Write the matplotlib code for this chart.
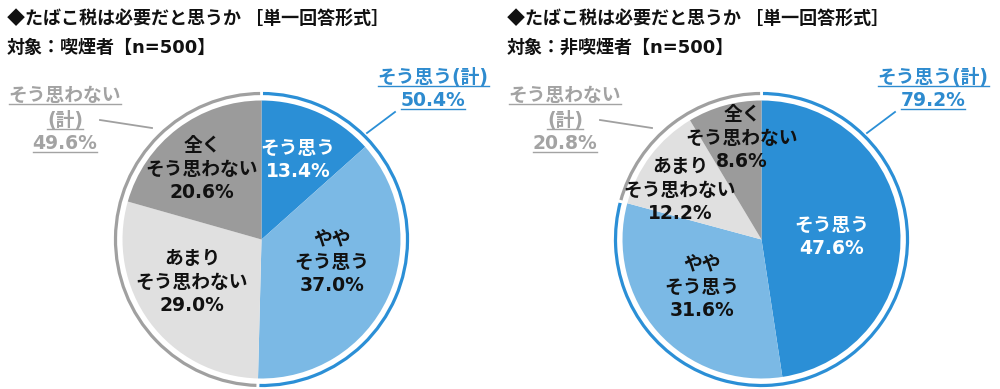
import matplotlib
matplotlib.use("Agg")
import matplotlib.pyplot as plt

# DejaVu first for the wide digits, Noto CJK for the kana/kanji
plt.rcParams['font.family'] = ['DejaVu Sans', 'Noto Sans CJK JP']

# data
title = "◆たばこ税は必要だと思うか ［単一回答形式］"
subtitles = ["対象：喫煙者【n=500】", "対象：非喫煙者【n=500】"]
categories = ["そう思う", "やや\nそう思う", "あまり\nそう思わない", "全く\nそう思わない"]
smokers = [13.4, 37.0, 29.0, 20.6]
non_smokers = [47.6, 31.6, 12.2, 8.6]
agree_label = "そう思う(計)"
disagree_label = ["そう思わない", "(計)"]

# colors
c_blue = "#2b8fd6"
c_lblue = "#7bb9e5"
c_lgray = "#e0e0e0"
c_dgray = "#9b9b9b"
c_ring_gray = "#a0a0a0"
c_txt_gray = "#a3a3a3"
c_txt_blue = "#2e8bcf"

W, H = 1000, 389
fig = plt.figure(figsize=(W / 100, H / 100), dpi=100)
ax = fig.add_axes([0, 0, 1, 1])

def py(y):
    # pixel row (from top) -> data y
    return H - y

FS = 13.5
FS_T = 13
underlines = []

def draw_chart(x0, vals, lab_pos):
    cx, cy = x0 + 261.5, py(239.5)
    agree = vals[0] + vals[1]
    disagree = vals[2] + vals[3]
    ax.pie(vals, colors=[c_blue, c_lblue, c_lgray, c_dgray], startangle=90,
           counterclock=False, radius=139, center=(cx, cy),
           wedgeprops=dict(linewidth=0))
    ax.pie([agree, disagree], colors=[c_blue, c_ring_gray], startangle=90,
           counterclock=False, radius=149, center=(cx, cy),
           wedgeprops=dict(width=6, edgecolor='white', linewidth=2))
    for i, (cat, v) in enumerate(zip(categories, vals)):
        lx, ly = lab_pos[i]
        ax.text(x0 + lx, py(ly), f"{cat}\n{v:.1f}%", ha='center', va='center',
                fontsize=FS, fontweight='bold', linespacing=1.28,
                color='white' if i == 0 else '#111111')
    # title (CJK font first so the ◆ is full width)
    ax.text(x0 + 7, py(18), title, ha='left', va='center', fontsize=FS_T,
            fontweight='bold', color='#111111',
            family=['Noto Sans CJK JP', 'DejaVu Sans'])
    # agree total
    t1 = ax.text(x0 + 433, py(77), agree_label, ha='center', va='center',
                 fontsize=FS, fontweight='bold', color=c_txt_blue)
    t2 = ax.text(x0 + 433, py(100), f"{agree:.1f}%", ha='center', va='center',
                 fontsize=FS, fontweight='bold', color=c_txt_blue)
    underlines.extend([(t1, c_txt_blue), (t2, c_txt_blue)])
    ax.plot([x0 + 395, x0 + 367], [py(112), py(133)], color=c_blue, lw=1.3)
    # disagree total
    t3 = ax.text(x0 + 65, py(95), disagree_label[0], ha='center', va='center',
                 fontsize=FS, fontweight='bold', color=c_txt_gray)
    t4 = ax.text(x0 + 65, py(120), disagree_label[1], ha='center', va='center',
                 fontsize=FS, fontweight='bold', color=c_txt_gray)
    t5 = ax.text(x0 + 65, py(143), f"{disagree:.1f}%", ha='center', va='center',
                 fontsize=FS, fontweight='bold', color=c_txt_gray)
    underlines.extend([(t3, c_txt_gray), (t4, c_txt_gray), (t5, c_txt_gray)])
    ax.plot([x0 + 100, x0 + 152], [py(120), py(128)], color=c_ring_gray, lw=1.3)

draw_chart(0, smokers, [(298, 160), (332, 262), (192, 282), (202, 169)])
draw_chart(500, non_smokers, [(332, 237), (202, 287), (180, 190), (242, 138)])

ax.text(7, py(48), subtitles[0], ha='left', va='center', fontsize=FS_T,
        fontweight='bold', color='#111111')
ax.text(507, py(48), subtitles[1], ha='left', va='center', fontsize=FS_T,
        fontweight='bold', color='#111111')

ax.set_xlim(0, W)
ax.set_ylim(0, H)
ax.set_aspect('auto')
ax.axis('off')

# underline the total labels
fig.canvas.draw()
for t, c in underlines:
    bb = t.get_window_extent()
    ax.plot([bb.x0, bb.x1], [bb.y0 + 1, bb.y0 + 1], color=c, lw=1.0)

fig.savefig("out.png", dpi=100)
